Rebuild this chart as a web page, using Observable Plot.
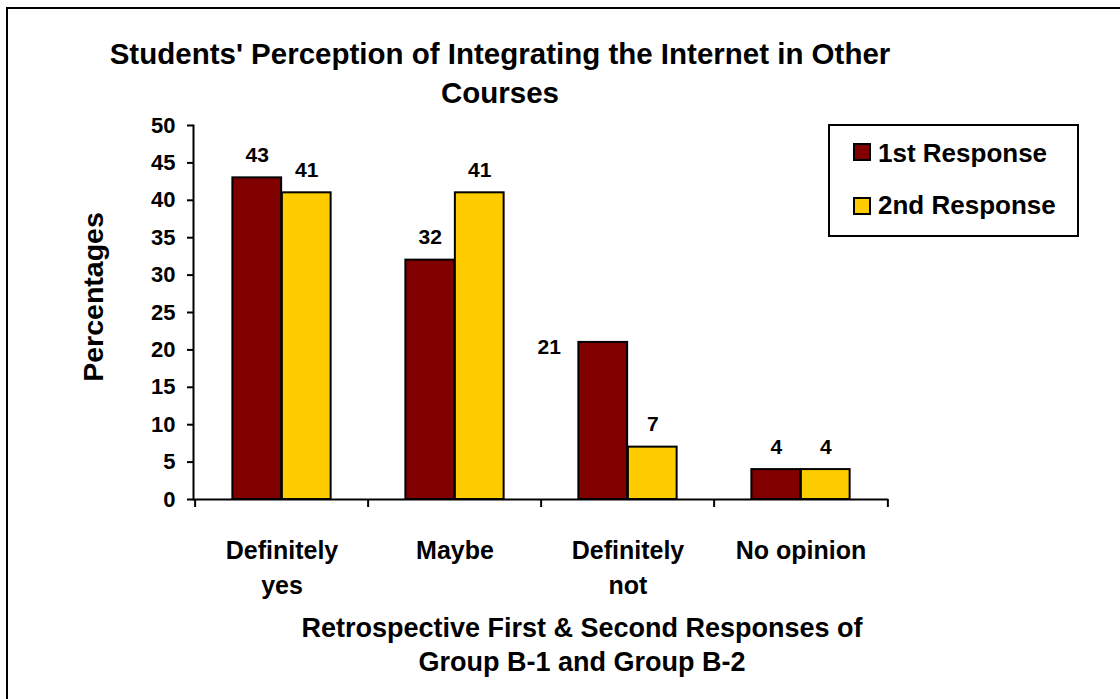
<!DOCTYPE html>
<html>
<head>
<meta charset="utf-8">
<script src="https://cdn.jsdelivr.net/npm/d3@7"></script>
<script src="https://cdn.jsdelivr.net/npm/@observablehq/plot@0.6"></script>
<style>
  body { margin: 0; background: #fff; }
  #wrap { position: relative; width: 1120px; height: 699px; overflow: hidden; background: #fff;
          font-family: Arial, "Liberation Sans", sans-serif; font-weight: bold; color: #000; }
  .frame { position: absolute; left: 6px; top: 7px; width: 1300px; height: 900px;
           border-left: 2px solid #000; border-top: 2px solid #000; }
  #chart { position: absolute; left: 0; top: 0; }
  .title { position: absolute; left: 50px; width: 900px; top: 34px; text-align: center;
           font-size: 29.5px; line-height: 39px; }
  .ylabel { position: absolute; left: -57px; top: 283px; width: 300px; text-align: center;
            font-size: 28.5px; line-height: 28px; transform: rotate(-90deg); }
  .xtitle { position: absolute; left: 232px; width: 700px; top: 611px; text-align: center;
            font-size: 27px; line-height: 34px; }
  .legend { position: absolute; left: 828px; top: 124px; width: 247px; height: 109px;
            border: 2px solid #000; background: #fff; }
  .sw { position: absolute; width: 18px; height: 18px; box-sizing: border-box; border: 2px solid #000; }
  .lt { position: absolute; font-size: 26px; line-height: 25px; white-space: nowrap; }
</style>
</head>
<body>
<div id="wrap">
  <div class="frame"></div>
  <div id="chart"></div>
  <div class="title">Students' Perception of Integrating the Internet in Other<br>Courses</div>
  <div class="ylabel">Percentages</div>
  <div class="xtitle">Retrospective First &amp; Second Responses of<br>Group B-1 and Group B-2</div>
  <div class="legend" id="legend"></div>
</div>
<script>
const categories = ["Definitely yes", "Maybe", "Definitely not", "No opinion"];
const categoryLabels = ["Definitely\nyes", "Maybe", "Definitely\nnot", "No opinion"];
const series = ["1st Response", "2nd Response"];
const firstResponse = [43, 32, 21, 4];
const secondResponse = [41, 41, 7, 4];
const yTicks = [0, 5, 10, 15, 20, 25, 30, 35, 40, 45, 50];
const colors = ["#800000", "#FFCC00"];

const data = categories.flatMap((c, i) => [
  {category: c, series: series[0], value: firstResponse[i]},
  {category: c, series: series[1], value: secondResponse[i]}
]);

const W = 1120, H = 610, mL = 193, mR = 232, mT = 125, mB = 111;
const band = (W - mL - mR) / categories.length;
const half = band / 2;
const barW = 49.5;
const outer = half - barW;

const s1 = data.filter(d => d.series === series[0]);
const s2 = data.filter(d => d.series === series[1]);
const isOdd = d => d.series === series[0] && d.category === "Definitely not";

const chart = Plot.plot({
  width: W, height: H,
  marginLeft: mL, marginRight: mR, marginTop: mT, marginBottom: mB,
  style: {fontFamily: 'Arial, "Liberation Sans", sans-serif', fontWeight: "bold", background: "transparent", color: "#000", overflow: "visible"},
  x: {domain: categories, padding: 0, axis: null},
  y: {domain: [0, 50], axis: null},
  color: {domain: series, range: colors},
  marks: [
    Plot.barY(s1, {x: "category", y: "value", fill: "series", stroke: "#000", strokeWidth: 2, insetLeft: outer, insetRight: half}),
    Plot.barY(s2, {x: "category", y: "value", fill: "series", stroke: "#000", strokeWidth: 2, insetLeft: half, insetRight: outer}),
    Plot.ruleY([0], {stroke: "#000", strokeWidth: 2}),
    Plot.frame({anchor: "left", stroke: "#000", strokeWidth: 2}),
    Plot.axisY({ticks: yTicks, tickSize: 6, tickPadding: 12, fontSize: 22, strokeWidth: 2, label: null, tickFormat: d => String(d)}),
    Plot.ruleX(categories, {x: d => d, dx: -half, y1: 0, y2: 0, insetBottom: -8, stroke: "#000", strokeWidth: 2}),
    Plot.ruleX(categories.slice(-1), {x: d => d, dx: half, y1: 0, y2: 0, insetBottom: -8, stroke: "#000", strokeWidth: 2}),
    Plot.text(categoryLabels, {x: (d, i) => categories[i], frameAnchor: "bottom", lineAnchor: "top", dy: 35, text: d => d, fontSize: 25, lineHeight: 1.4}),
    Plot.text(s1.filter(d => !isOdd(d)), {x: "category", y: "value", text: d => String(d.value), dx: -(barW / 2), dy: -16, lineAnchor: "bottom", fontSize: 21}),
    Plot.text(s1.filter(isOdd), {x: "category", y: "value", text: d => String(d.value), dx: -(barW / 2) - 54, dy: 12, lineAnchor: "bottom", fontSize: 21}),
    Plot.text(s2, {x: "category", y: "value", text: d => String(d.value), dx: barW / 2, dy: -16, lineAnchor: "bottom", fontSize: 21})
  ]
});
document.getElementById("chart").appendChild(chart);

const legend = document.getElementById("legend");
const rows = [{sw: 17, tx: 15}, {sw: 71, tx: 67}];
series.forEach((s, i) => {
  const sw = document.createElement("div");
  sw.className = "sw";
  sw.style.left = "23px";
  sw.style.top = rows[i].sw + "px";
  sw.style.background = colors[i];
  legend.appendChild(sw);
  const t = document.createElement("div");
  t.className = "lt";
  t.style.left = "48px";
  t.style.top = rows[i].tx + "px";
  t.textContent = s;
  legend.appendChild(t);
});
</script>
</body>
</html>
